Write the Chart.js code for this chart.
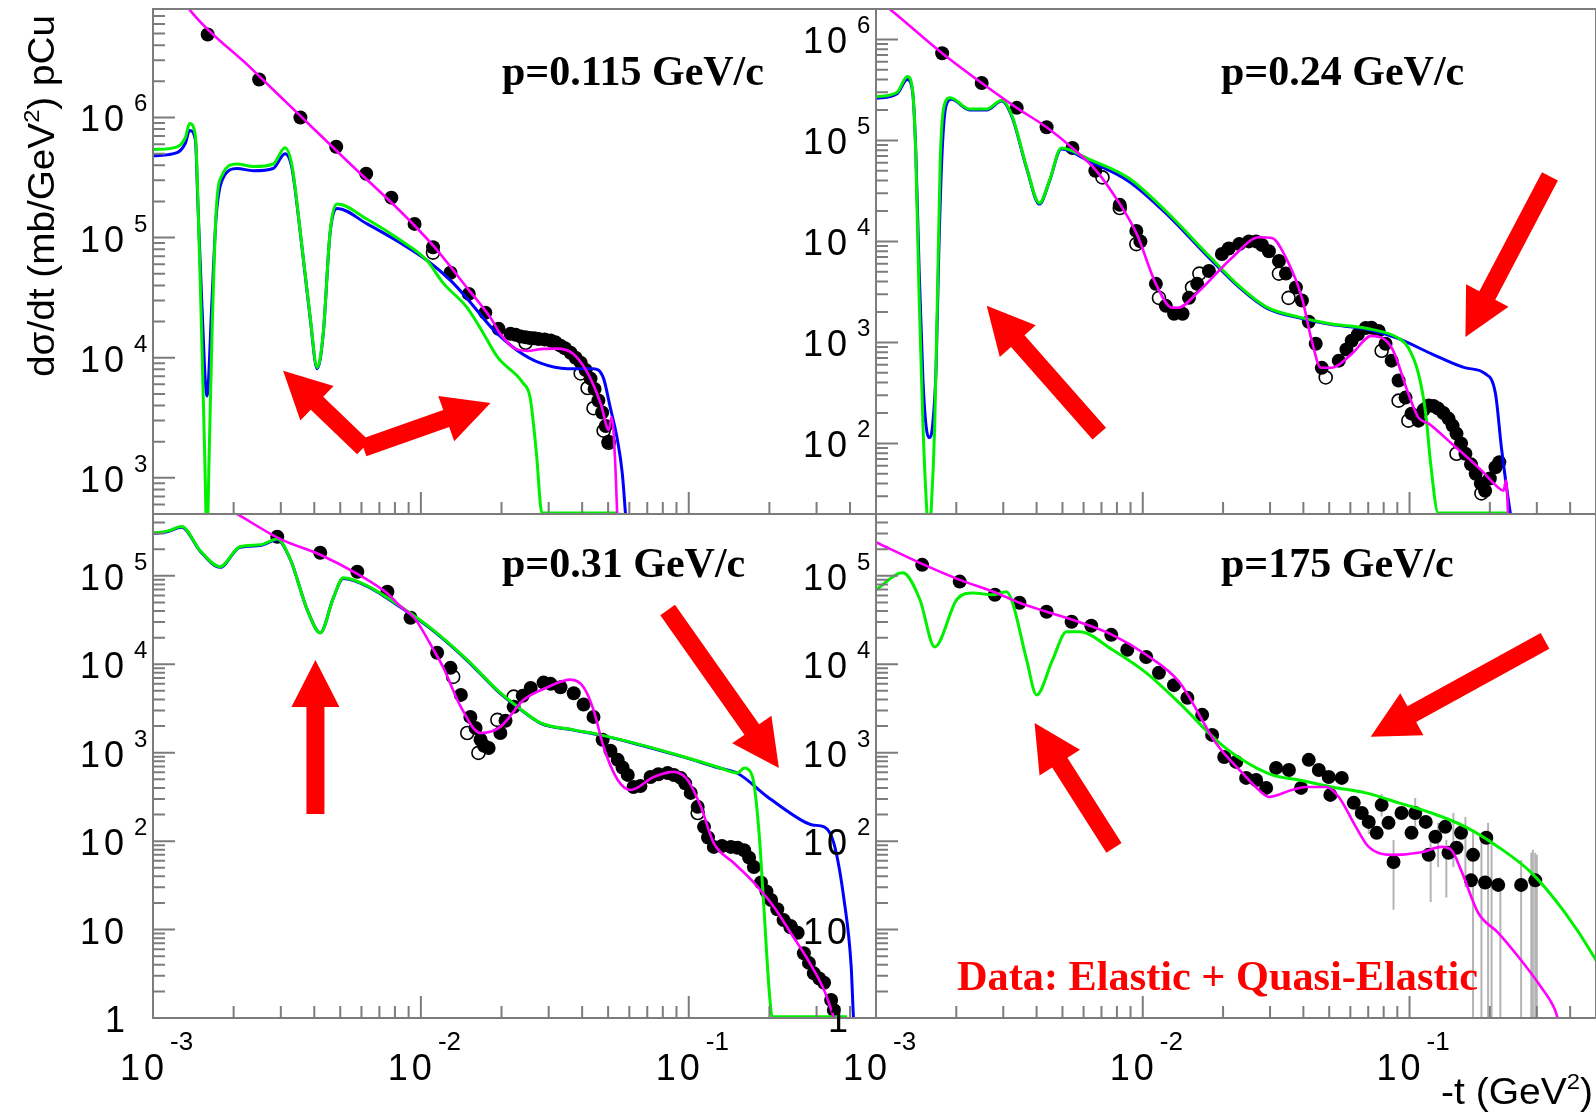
<!DOCTYPE html>
<html>
<head>
<meta charset="utf-8">
<script src="https://cdn.jsdelivr.net/npm/chart.js@4.4.0/dist/chart.umd.min.js"></script>
<style>
  html, body { margin: 0; padding: 0; background: #fff; }
  #wrap { position: relative; width: 1596px; height: 1114px; overflow: hidden; background: #fff; }
  canvas { position: absolute; left: 0; top: 0; }
</style>
</head>
<body>
<div id="wrap">
  <canvas id="tl" width="1596" height="1114"></canvas>
  <canvas id="tr" width="1596" height="1114"></canvas>
  <canvas id="bl" width="1596" height="1114"></canvas>
  <canvas id="br" width="1596" height="1114"></canvas>
</div>
<script>
// ---- axis labels (exponents of the decade labels) ----
const xExp = [-3, -2, -1];
const tlYExp = [3, 4, 5, 6];
const trYExp = [2, 3, 4, 5, 6];
const bottomYExp = [0, 1, 2, 3, 4, 5];

// ---- p = 0.115 GeV/c ----
const tlData = [[1.6e-3,4.9e6],[2.49e-3,2.07e6],[3.55e-3,1.0e6],[4.83e-3,5.7e5],[6.25e-3,3.4e5],[7.76e-3,2.15e5],
  [9.47e-3,1.3e5],[1.11e-2,8.3e4],[1.29e-2,5.1e4],[1.51e-2,3.4e4],[1.74e-2,2.37e4],[1.95e-2,1.74e4],[2.16e-2,1.58e4],
  [2.26e-2,1.55e4],[2.36e-2,1.5e4],[2.46e-2,1.48e4],[2.55e-2,1.46e4],[2.65e-2,1.45e4],[2.75e-2,1.43e4],[2.9e-2,1.42e4],
  [3.05e-2,1.39e4],[3.18e-2,1.34e4],[3.32e-2,1.26e4],[3.45e-2,1.2e4],[3.62e-2,1.1e4],[3.78e-2,1.0e4],[3.95e-2,9.1e3],
  [4.12e-2,7.9e3],[4.3e-2,6.7e3],[4.45e-2,5.5e3],[4.6e-2,4.4e3],[4.75e-2,3.5e3],[4.9e-2,2.7e3],[5.02e-2,2.0e3]];
const tlOpen = [[1.11e-2,7.5e4],[2.46e-2,1.33e4],[3.18e-2,1.33e4],[3.95e-2,7.4e3],[4.19e-2,5.6e3],[4.41e-2,3.8e3],
  [4.81e-2,2.47e3],[5.02e-2,1.96e3]];
const tlMagenta = [[1.3e-3,9.5e6],[1.37e-3,7.9e6],[2.31e-3,2.6e6],[3.55e-3,1.03e6],[5.45e-3,4.1e5],[8.4e-3,1.65e5],
  [1.11e-2,8.6e4],[1.49e-2,3.8e4],[1.82e-2,2.15e4],[1.98e-2,1.58e4],[2.22e-2,1.21e4],[2.5e-2,1.14e4],[2.8e-2,1.18e4],
  [3.2e-2,1.19e4],[3.7e-2,1.08e4],[4.2e-2,7.4e3],[4.7e-2,4.1e3],[5.03e-2,2.5e3],[5.15e-2,3.2e3],[5.3e-2,1.5e3],[5.45e-2,300]];
const tlBlue = [[1e-3,4.8e5],[1.23e-3,5.1e5],[1.32e-3,6.1e5],[1.37e-3,7.8e5],[1.44e-3,6.5e5],[1.47e-3,2e5],[1.52e-3,3e4],
  [1.59e-3,4.8e3],[1.66e-3,3e4],[1.72e-3,1.47e5],[1.81e-3,3e5],[2.06e-3,3.76e5],[2.37e-3,3.6e5],[2.81e-3,3.76e5],
  [3.11e-3,5e5],[3.3e-3,3.8e5],[3.55e-3,1.08e5],[3.86e-3,2.15e4],[4.1e-3,8.1e3],[4.32e-3,1.58e4],[4.58e-3,1.08e5],
  [4.87e-3,1.75e5],[6.3e-3,1.3e5],[8.4e-3,9e4],[1.05e-2,6.5e4],[1.29e-2,4.4e4],[1.49e-2,3.1e4],[1.87e-2,1.7e4],
  [2.29e-2,1.15e4],[2.8e-2,9e3],[3.53e-2,8.1e3],[4.4e-2,8.1e3],[4.8e-2,6.8e3],[5.1e-2,3.8e3],[5.4e-2,2.15e3],
  [5.65e-2,1.08e3],[5.9e-2,300]];
const tlGreen = [[1e-3,5.4e5],[1.23e-3,5.7e5],[1.32e-3,6.8e5],[1.37e-3,8.9e5],[1.44e-3,7e5],[1.47e-3,2.2e5],[1.52e-3,1.5e4],
  [1.56e-3,1.5e3],[1.59e-3,300],[1.62e-3,1.5e3],[1.66e-3,1.5e4],[1.72e-3,1.6e5],[1.81e-3,3.3e5],[2.06e-3,4.1e5],
  [2.37e-3,3.9e5],[2.81e-3,4.1e5],[3.11e-3,5.6e5],[3.3e-3,4e5],[3.55e-3,1.1e5],[3.86e-3,2.2e4],[4.1e-3,8.3e3],
  [4.32e-3,1.6e4],[4.58e-3,1.1e5],[4.87e-3,1.9e5],[6.3e-3,1.42e5],[8.4e-3,9.5e4],[1.05e-2,6.5e4],[1.21e-2,4.2e4],
  [1.49e-2,2.6e4],[1.71e-2,1.6e4],[1.94e-2,1e4],[2.4e-2,6.2e3],[2.56e-2,4.6e3],[2.7e-2,1.6e3],[2.83e-2,510],[5.4e-2,510]];
const tlArrows = [[6.1e-3,1.78e3,3.06e-3,7.8e3],[6.1e-3,1.78e3,1.82e-2,4.2e3]];

// ---- p = 0.24 GeV/c ----
const trData = [[1.77e-3,7.3e5],[2.49e-3,3.7e5],[3.37e-3,2.1e5],[4.36e-3,1.35e5],[5.45e-3,8.4e4],[6.64e-3,5e4],[8.2e-3,2.3e4],
  [9.46e-3,1.27e4],[9.8e-3,1.0e4],[1.12e-2,3.8e3],[1.22e-2,2.3e3],[1.31e-2,1.92e3],[1.41e-2,1.92e3],[1.49e-2,2.76e3],
  [1.6e-2,3.8e3],[1.77e-2,5.1e3],[1.98e-2,7.5e3],[2.1e-2,8.5e3],[2.3e-2,9.4e3],[2.5e-2,1.0e4],[2.66e-2,1.0e4],[2.8e-2,9.2e3],
  [2.97e-2,8.0e3],[3.24e-2,6.4e3],[3.44e-2,4.8e3],[3.75e-2,3.5e3],[3.95e-2,2.6e3],[4.19e-2,1.6e3],[4.45e-2,970],[4.69e-2,560],
  [5.43e-2,660],[5.8e-2,850],[6.07e-2,1.04e3],[6.4e-2,1.2e3],[6.85e-2,1.39e3],[7.2e-2,1.4e3],[7.66e-2,1.3e3],[8.13e-2,970],
  [8.57e-2,660],[9.1e-2,420],[9.66e-2,284],[0.1017,197],[0.108,168],[0.113,215],[0.118,237],[0.123,235],[0.128,221],
  [0.134,200],[0.14,176],[0.145,150],[0.15,125],[0.156,100],[0.162,79],[0.17,62],[0.177,50],[0.185,40],[0.192,34],
  [0.2,45],[0.21,58],[0.217,65]];
const trOpen = [[7.06e-3,4.3e4],[8.2e-3,2.14e4],[9.46e-3,9.4e3],[1.15e-2,2.76e3],[1.53e-2,3.5e3],[1.63e-2,4.8e3],
  [3.24e-2,4.8e3],[3.52e-2,2.76e3],[4.85e-2,450],[7.86e-2,826],[9.1e-2,265],[9.9e-2,168],[0.15,79],[0.186,32]];
const trMagenta = [[1.05e-3,2.3e6],[1.13e-3,1.98e6],[1.77e-3,7.3e5],[2.49e-3,3.7e5],[3.37e-3,2.1e5],[4.36e-3,1.35e5],
  [5.45e-3,8.4e4],[6.7e-3,5e4],[8.2e-3,2.35e4],[9.5e-3,1.18e4],[1.12e-2,3.8e3],[1.29e-2,2.2e3],[1.35e-2,2.2e3],
  [1.63e-2,3.24e3],[2.16e-2,6.9e3],[2.73e-2,1.1e4],[3.05e-2,1.08e4],[3.44e-2,6.9e3],[3.95e-2,2.76e3],[4.3e-2,1.04e3],
  [4.65e-2,561],[5.1e-2,561],[6.07e-2,770],[7.2e-2,1.16e3],[8.57e-2,885],[9.9e-2,310],[0.108,180],[0.118,157],
  [0.1436,100],[0.186,54],[0.215,36.6],[0.225,34],[0.23,43],[0.236,12]];
const trBlue = [[1e-3,2.6e5],[1.2e-3,2.9e5],[1.31e-3,4.0e5],[1.37e-3,3.1e5],[1.41e-3,7.8e4],[1.45e-3,5.5e3],[1.5e-3,420],
  [1.54e-3,150],[1.58e-3,114],[1.63e-3,150],[1.68e-3,560],[1.72e-3,8e3],[1.77e-3,7.8e4],[1.83e-3,2.2e5],[1.92e-3,2.55e5],
  [2.24e-3,2.0e5],[2.6e-3,2.0e5],[2.96e-3,2.45e5],[3.25e-3,1.65e5],[3.67e-3,5.3e4],[4.1e-3,2.34e4],[4.47e-3,3.95e4],
  [4.95e-3,8.2e4],[6.3e-3,6.2e4],[8.9e-3,3.9e4],[1.22e-2,1.9e4],[1.77e-2,6.9e3],[2.3e-2,3.5e3],[2.9e-2,2.2e3],
  [3.85e-2,1.75e3],[5.1e-2,1.5e3],[6.85e-2,1.36e3],[9.1e-2,1.09e3],[0.121,770],[0.162,560],[0.192,490],[0.21,310],
  [0.221,91],[0.234,29],[0.243,15]];
const trGreen = [[1e-3,2.7e5],[1.2e-3,3.0e5],[1.31e-3,4.3e5],[1.37e-3,3.2e5],[1.41e-3,7e4],[1.45e-3,3e3],[1.5e-3,150],
  [1.55e-3,22],[1.58e-3,12],[1.61e-3,22],[1.66e-3,150],[1.7e-3,3e3],[1.74e-3,6e4],[1.8e-3,2.2e5],[1.9e-3,2.65e5],
  [2.24e-3,2.05e5],[2.6e-3,2.05e5],[2.96e-3,2.5e5],[3.25e-3,1.7e5],[3.67e-3,5.4e4],[4.1e-3,2.4e4],[4.47e-3,4.0e4],
  [4.95e-3,8.4e4],[6.3e-3,6.5e4],[8.9e-3,4.2e4],[1.22e-2,2.0e4],[1.77e-2,7.2e3],[2.3e-2,3.6e3],[2.9e-2,2.25e3],
  [3.85e-2,1.78e3],[5.1e-2,1.52e3],[6.85e-2,1.38e3],[9.1e-2,1.1e3],[0.099,885],[0.108,490],[0.115,197],[0.12,63],
  [0.128,20.5],[0.234,20.5]];
const trArrows = [[6.87e-3,125,2.6e-3,2.3e3],[0.336,4.4e4,0.162,1.13e3]];

// ---- p = 0.31 GeV/c ----
const blData = [[2.91e-3,2.76e5],[4.21e-3,1.82e5],[5.79e-3,1.11e5],[7.5e-3,6.6e4],[9.15e-3,3.35e4],[1.15e-2,1.35e4],
  [1.29e-2,9.1e3],[1.41e-2,4.5e3],[1.53e-2,2.54e3],[1.6e-2,1.9e3],[1.67e-2,1.4e3],[1.72e-2,1.2e3],[1.79e-2,1.13e3],
  [1.98e-2,1.67e3],[2.07e-2,2.3e3],[2.22e-2,3.3e3],[2.4e-2,4.4e3],[2.57e-2,5.4e3],[2.87e-2,6.2e3],[3.05e-2,6.0e3],
  [3.32e-2,5.5e3],[3.72e-2,4.7e3],[4.05e-2,3.5e3],[4.41e-2,2.54e3],[4.77e-2,1.4e3],[5.1e-2,1.05e3],[5.43e-2,830],
  [5.66e-2,680],[5.92e-2,561],[6.22e-2,410],[6.6e-2,420],[7.2e-2,532],[7.7e-2,570],[8.34e-2,590],[8.8e-2,560],
  [9.33e-2,519],[9.7e-2,450],[0.1017,351],[0.108,244],[0.114,145],[0.118,110],[0.124,86],[0.133,88],[0.1436,86],
  [0.152,84],[0.161,79],[0.168,65],[0.175,51],[0.186,34],[0.195,27],[0.203,21.6],[0.214,17],[0.226,12.8],[0.24,11],
  [0.255,9.2],[0.269,5.4],[0.281,4.2],[0.293,3.2],[0.307,2.8],[0.32,2.5],[0.34,1.6],[0.348,1.23]];
const blOpen = [[1.32e-2,7.2e3],[1.49e-2,1.67e3],[1.64e-2,995],[1.93e-2,2.35e3],[2.22e-2,4.3e3],[0.108,208],[0.24,10.7]];
const blMagenta = [[1.78e-3,6.3e5],[1.99e-3,5.3e5],[2.99e-3,2.6e5],[4.21e-3,1.73e5],[5.79e-3,1.05e5],[7.5e-3,6.3e4],
  [8.4e-3,4.5e4],[9.4e-3,3.4e4],[9.96e-3,2.65e4],[1.11e-2,1.49e4],[1.21e-2,9.3e3],[1.41e-2,3.3e3],[1.67e-2,1.67e3],
  [1.98e-2,1.96e3],[2.42e-2,3.96e3],[2.97e-2,5.5e3],[3.62e-2,6.7e3],[4.05e-2,5.5e3],[4.41e-2,3.05e3],[4.81e-2,1.16e3],
  [5.43e-2,492],[6.07e-2,379],[7.4e-2,532],[8.79e-2,607],[9.9e-2,492],[0.111,244],[0.124,95],[0.147,57],[0.175,34],
  [0.208,18],[0.24,9.2],[0.279,4.5],[0.32,2.07],[0.348,1.0],[0.36,0.7]];
const blBlue = [[1e-3,3.0e5],[1.13e-3,3.15e5],[1.28e-3,3.55e5],[1.5e-3,1.9e5],[1.78e-3,1.25e5],[2.11e-3,2.1e5],
  [2.51e-3,2.2e5],[2.91e-3,2.55e5],[3.25e-3,1.55e5],[3.77e-3,4.1e4],[4.21e-3,2.27e4],[4.71e-3,5.6e4],[5.13e-3,9.3e4],
  [6.31e-3,7.6e4],[8.4e-3,4.4e4],[1.11e-2,2.4e4],[1.49e-2,1.1e4],[1.93e-2,5.0e3],[2.3e-2,3.25e3],[2.8e-2,2.15e3],
  [3.72e-2,1.8e3],[4.69e-2,1.58e3],[6.22e-2,1.28e3],[9.58e-2,890],[0.128,680],[0.152,585],[0.197,316],[0.262,174],
  [0.29,152],[0.32,145],[0.348,95],[0.38,21.6],[0.404,3.8],[0.412,1],[0.42,0.5]];
const blGreen = [[1e-3,3.06e5],[1.13e-3,3.2e5],[1.28e-3,3.6e5],[1.5e-3,1.92e5],[1.78e-3,1.27e5],[2.11e-3,2.13e5],
  [2.51e-3,2.24e5],[2.91e-3,2.6e5],[3.25e-3,1.56e5],[3.77e-3,4.1e4],[4.21e-3,2.27e4],[4.71e-3,5.6e4],[5.13e-3,9.5e4],
  [6.31e-3,7.7e4],[8.4e-3,4.5e4],[1.11e-2,2.45e4],[1.49e-2,1.12e4],[1.93e-2,5.1e3],[2.3e-2,3.3e3],[2.8e-2,2.17e3],
  [3.72e-2,1.81e3],[4.69e-2,1.59e3],[6.22e-2,1.29e3],[9.58e-2,900],[0.128,690],[0.152,590],[0.161,673],[0.17,607],
  [0.175,455],[0.183,124],[0.19,21.6],[0.2,1.9],[0.205,1.03],[0.39,1.03]];
const blArrows = [[4.04e-3,203,4.04e-3,1.12e4],[8.34e-2,4.1e4,0.217,673]];

// ---- p = 175 GeV/c ----
const brData = [[1.49e-3,1.33e5],[2.06e-3,8.6e4],[2.79e-3,6.1e4],[3.45e-3,4.95e4],[4.36e-3,3.92e4],[5.41e-3,3.02e4],
  [6.41e-3,2.72e4],[7.62e-3,2.15e4],[8.75e-3,1.46e4],[1.03e-2,1.21e4],[1.15e-2,8e3],[1.31e-2,5.8e3],[1.47e-2,4.17e3],
  [1.67e-2,2.68e3],[1.82e-2,1.59e3],[2.02e-2,895],[2.24e-2,787],[2.44e-2,519],[2.66e-2,492],[2.9e-2,400],[3.16e-2,673],
  [3.53e-2,638],[3.92e-2,400],[4.19e-2,830],[4.57e-2,638],[4.98e-2,532],[5.05e-2,333],[5.57e-2,519],[6.18e-2,271],
  [6.62e-2,208],[7.03e-2,165],[7.53e-2,124],[7.86e-2,257],[8.34e-2,161],[8.71e-2,58],[9.33e-2,208],[0.1017,124],
  [0.105,208],[0.115,165],[0.118,70],[0.125,112],[0.136,145],[0.14,74],[0.15,84],[0.156,124],[0.17,36],[0.173,70],
  [0.192,34],[0.194,109],[0.215,32],[0.262,32],[0.296,36]];
const brErrors = [[0.0703,120,190],[0.0786,190,340],[0.0871,16.7,103],[0.105,110,308],[0.12,20.5,111],[0.128,51,161],
  [0.1374,23,103],[0.146,51,208],[0.162,30,188],[0.173,0.5,134],[0.186,0.5,111],[0.197,0.5,161],[0.203,0.5,111],
  [0.219,0.5,39],[0.262,0.5,61],[0.286,0.5,74],[0.29,0.5,80],[0.296,0.5,74],[0.3,0.5,70]];
const brMagenta = [[1e-3,2.4e5],[1.46e-3,1.4e5],[2.06e-3,9e4],[2.83e-3,6.4e4],[3.45e-3,4.95e4],[4.36e-3,3.92e4],
  [5.45e-3,3.18e4],[7.69e-3,2.15e4],[1.03e-2,1.28e4],[1.37e-2,6.3e3],[1.88e-2,1.29e3],[2.36e-2,590],[2.8e-2,351],
  [2.97e-2,316],[3.62e-2,379],[4.09e-2,410],[4.85e-2,410],[5.43e-2,316],[6.29e-2,145],[7.03e-2,86],[8.57e-2,70],
  [0.111,75],[0.132,86],[0.1436,79],[0.156,47],[0.181,15.4],[0.215,9.2],[0.262,4.5],[0.311,2.24],[0.351,1.23],[0.367,0.8]];
const brGreen = [[1e-3,6.95e4],[1.26e-3,1.08e5],[1.46e-3,5.4e4],[1.66e-3,1.57e4],[2.01e-3,5.4e4],[2.31e-3,6.4e4],
  [2.74e-3,6.1e4],[3.09e-3,6.6e4],[3.25e-3,4.95e4],[3.67e-3,1.12e4],[4.0e-3,4.5e3],[4.59e-3,1.12e4],[5.18e-3,2.33e4],
  [5.79e-3,2.33e4],[7.69e-3,1.46e4],[1.03e-2,8e3],[1.37e-2,3.66e3],[1.88e-2,1.4e3],[2.36e-2,830],[3.05e-2,561],
  [3.85e-2,492],[5.1e-2,410],[6.85e-2,351],[9.1e-2,271],[0.121,208],[0.162,145],[0.215,86],[0.286,44],[0.383,15.4],
  [0.492,4.9],[0.51,4]];
const brArrows = [[7.8e-3,84,3.93e-3,2.17e3],[0.322,1.84e4,7.15e-2,1.51e3]];

// ---- drawing helpers ----
const SANS = '"Liberation Sans", Arial, Helvetica, sans-serif';
const SERIF = '"Liberation Serif", "Times New Roman", serif';
const FRAME = '#7c7c7c';

function pts(arr) { return arr.map(p => ({ x: p[0], y: p[1] })); }

// error bars as one broken line: low, high, gap
function errPts(arr) {
  const out = [];
  arr.forEach(e => { out.push({ x: e[0], y: e[1] }, { x: e[0], y: e[2] }, { x: e[0], y: NaN }); });
  return out;
}

function logTicks(min, max) {
  const out = [];
  for (let e = Math.floor(Math.log10(min)); e <= Math.ceil(Math.log10(max)); e++) {
    for (let m = 1; m <= 9; m++) {
      const v = m * Math.pow(10, e);
      if (v >= min * 0.9999 && v <= max * 1.0001) out.push({ value: v, major: m === 1 });
    }
  }
  return out;
}

function curve(data, color, order, width) {
  return { data: pts(data), showLine: true, borderColor: color, borderWidth: width || 3, pointRadius: 0,
    cubicInterpolationMode: 'monotone', capBezierPoints: false, spanGaps: false, clip: 0, order: order };
}
function dots(data, open, order) {
  return { data: pts(data), showLine: false, pointRadius: open ? 6.5 : 7,
    pointBackgroundColor: open ? '#fff' : '#000', pointBorderColor: '#000', pointBorderWidth: open ? 1.6 : 0,
    clip: 0, order: order };
}

function drawTen(ctx, xr, yb) {
  ctx.textAlign = 'right';
  ctx.fillText('0', xr, yb);
  ctx.fillText('1', xr - ctx.measureText('0').width - 4, yb);
}

function yLabel(ctx, left, py, e) {
  ctx.font = '36px ' + SANS;
  if (e === 0) { ctx.textAlign = 'right'; ctx.fillText('1', left - 28, py + 14); return; }
  drawTen(ctx, left - 29, py + 14);
  if (e === 1) return;
  ctx.font = '24px ' + SANS;
  ctx.textAlign = 'left';
  ctx.fillText(String(e), left - 19, py - 6);
}

function xLabel(ctx, px, bottom, e) {
  ctx.font = '36px ' + SANS;
  drawTen(ctx, px + 11, bottom + 62);
  ctx.font = '26px ' + SANS;
  ctx.textAlign = 'left';
  ctx.fillText(String(e), px + 17, bottom + 32);
}

// text made of pieces [text, font, rise], stretched to a given length
function pieces(ctx, parts, x, y, len) {
  let total = 0;
  parts.forEach(p => { ctx.font = p[1]; total += ctx.measureText(p[0]).width; });
  ctx.save();
  ctx.translate(x, y);
  ctx.scale(len / total, 1);
  ctx.textAlign = 'left';
  let cx = 0;
  parts.forEach(p => { ctx.font = p[1]; ctx.fillText(p[0], cx, -p[2]); cx += ctx.measureText(p[0]).width; });
  ctx.restore();
}

function arrow(ctx, x1, y1, x2, y2) {
  const dx = x2 - x1, dy = y2 - y1, L = Math.hypot(dx, dy);
  const ux = dx / L, uy = dy / L, nx = -uy, ny = ux;
  const sw = 9, hw = 24, hl = 47;
  const bx = x2 - ux * hl, by = y2 - uy * hl;
  ctx.beginPath();
  ctx.moveTo(x1 + nx * sw, y1 + ny * sw);
  ctx.lineTo(bx + nx * sw, by + ny * sw);
  ctx.lineTo(bx + nx * hw, by + ny * hw);
  ctx.lineTo(x2, y2);
  ctx.lineTo(bx - nx * hw, by - ny * hw);
  ctx.lineTo(bx - nx * sw, by - ny * sw);
  ctx.lineTo(x1 - nx * sw, y1 - ny * sw);
  ctx.closePath();
  ctx.fill();
}

function framePlugin(p) {
  return {
    id: 'frame_' + p.id,
    afterDatasetsDraw(chart) {
      const ctx = chart.ctx, a = chart.chartArea, xs = chart.scales.x, ys = chart.scales.y;
      ctx.save();
      ctx.strokeStyle = FRAME;
      ctx.lineWidth = 2;
      ctx.strokeRect(a.left, a.top, a.right - a.left, a.bottom - a.top);
      ctx.beginPath();
      logTicks(xs.min, xs.max).forEach(t => {
        const px = xs.getPixelForValue(t.value);
        ctx.moveTo(px, a.bottom); ctx.lineTo(px, a.bottom - (t.major ? 22 : 12));
      });
      logTicks(ys.min, ys.max).forEach(t => {
        const py = ys.getPixelForValue(t.value);
        ctx.moveTo(a.left, py); ctx.lineTo(a.left + (t.major ? 22 : 12), py);
      });
      ctx.stroke();
      ctx.fillStyle = '#ff0000';
      p.arrows.forEach(r => arrow(ctx, xs.getPixelForValue(r[0]), ys.getPixelForValue(r[1]),
                                       xs.getPixelForValue(r[2]), ys.getPixelForValue(r[3])));
      ctx.restore();
    },
    afterDraw(chart) {
      const ctx = chart.ctx, a = chart.chartArea, xs = chart.scales.x, ys = chart.scales.y;
      ctx.save();
      ctx.fillStyle = '#000';
      ctx.textBaseline = 'alphabetic';
      p.yExp.forEach(e => yLabel(ctx, a.left, ys.getPixelForValue(Math.pow(10, e)), e));
      if (p.xExp) p.xExp.forEach(e => xLabel(ctx, xs.getPixelForValue(Math.pow(10, e)), a.bottom, e));
      ctx.font = 'bold 42px ' + SERIF;
      ctx.textAlign = 'left';
      ctx.fillText(p.label, a.left + p.labelAt[0], a.top + p.labelAt[1]);
      if (p.note) {
        ctx.fillStyle = '#ff0000';
        pieces(ctx, [[p.note, 'bold 42px ' + SERIF, 0]], a.left + 81, a.top + 476, 521);
        ctx.fillStyle = '#000';
      }
      if (p.yTitle) {
        ctx.save();
        ctx.translate(54, 377);
        ctx.rotate(-Math.PI / 2);
        pieces(ctx, [['d\u03c3/dt (mb/GeV', '36px ' + SANS, 0], ['2', '22px ' + SANS, 15], [') pCu', '36px ' + SANS, 0]], 0, 0, 362);
        ctx.restore();
      }
      if (p.xTitle) {
        pieces(ctx, [['-t (GeV', '36px ' + SANS, 0], ['2', '22px ' + SANS, 15], [')', '36px ' + SANS, 0]], 1441, 1104, 152);
      }
      ctx.restore();
    }
  };
}

const panels = [
  { id: 'tl', box: [153, 9, 876, 514], yMin: 500, yMax: 8e6, yExp: tlYExp, xExp: null,
    label: 'p=0.115 GeV/c', labelAt: [349, 76], arrows: tlArrows, yTitle: true,
    sets: [curve(tlMagenta, '#ff00ff', 1, 2.6), curve(tlGreen, '#00f000', 2), curve(tlBlue, '#0000ff', 3),
           dots(tlData, false, 4), dots(tlOpen, true, 5)] },
  { id: 'tr', box: [876, 9, 1596, 514], yMin: 20, yMax: 2e6, yExp: trYExp, xExp: null,
    label: 'p=0.24 GeV/c', labelAt: [345, 76], arrows: trArrows,
    sets: [curve(trMagenta, '#ff00ff', 1, 2.6), curve(trGreen, '#00f000', 2), curve(trBlue, '#0000ff', 3),
           dots(trData, false, 4), dots(trOpen, true, 5)] },
  { id: 'bl', box: [153, 514, 876, 1018], yMin: 1, yMax: 5e5, yExp: bottomYExp, xExp: xExp,
    label: 'p=0.31 GeV/c', labelAt: [349, 63], arrows: blArrows,
    sets: [curve(blMagenta, '#ff00ff', 1, 2.6), curve(blGreen, '#00f000', 2), curve(blBlue, '#0000ff', 3),
           dots(blData, false, 4), dots(blOpen, true, 5)] },
  { id: 'br', box: [876, 514, 1596, 1018], yMin: 1, yMax: 5e5, yExp: bottomYExp, xExp: xExp,
    label: 'p=175 GeV/c', labelAt: [345, 63], arrows: brArrows, xTitle: true,
    note: 'Data: Elastic + Quasi-Elastic',
    sets: [curve(brMagenta, '#ff00ff', 1, 2.6), curve(brGreen, '#00f000', 2), dots(brData, false, 4),
           { data: errPts(brErrors), showLine: true, borderColor: '#b4b4b4', borderWidth: 2, pointRadius: 0,
             spanGaps: false, clip: 0, order: 6 }] }
];

panels.forEach(p => {
  new Chart(document.getElementById(p.id), {
    type: 'scatter',
    data: { datasets: p.sets },
    options: {
      responsive: false,
      animation: false,
      events: [],
      layout: { autoPadding: false, padding: { left: p.box[0], top: p.box[1], right: 1596 - p.box[2], bottom: 1114 - p.box[3] } },
      plugins: { legend: { display: false }, tooltip: { enabled: false } },
      scales: {
        x: { type: 'logarithmic', min: 1e-3, max: 0.5, display: false, bounds: 'data' },
        y: { type: 'logarithmic', min: p.yMin, max: p.yMax, display: false, bounds: 'data' }
      }
    },
    plugins: [framePlugin(p)]
  });
});
</script>
</body>
</html>
